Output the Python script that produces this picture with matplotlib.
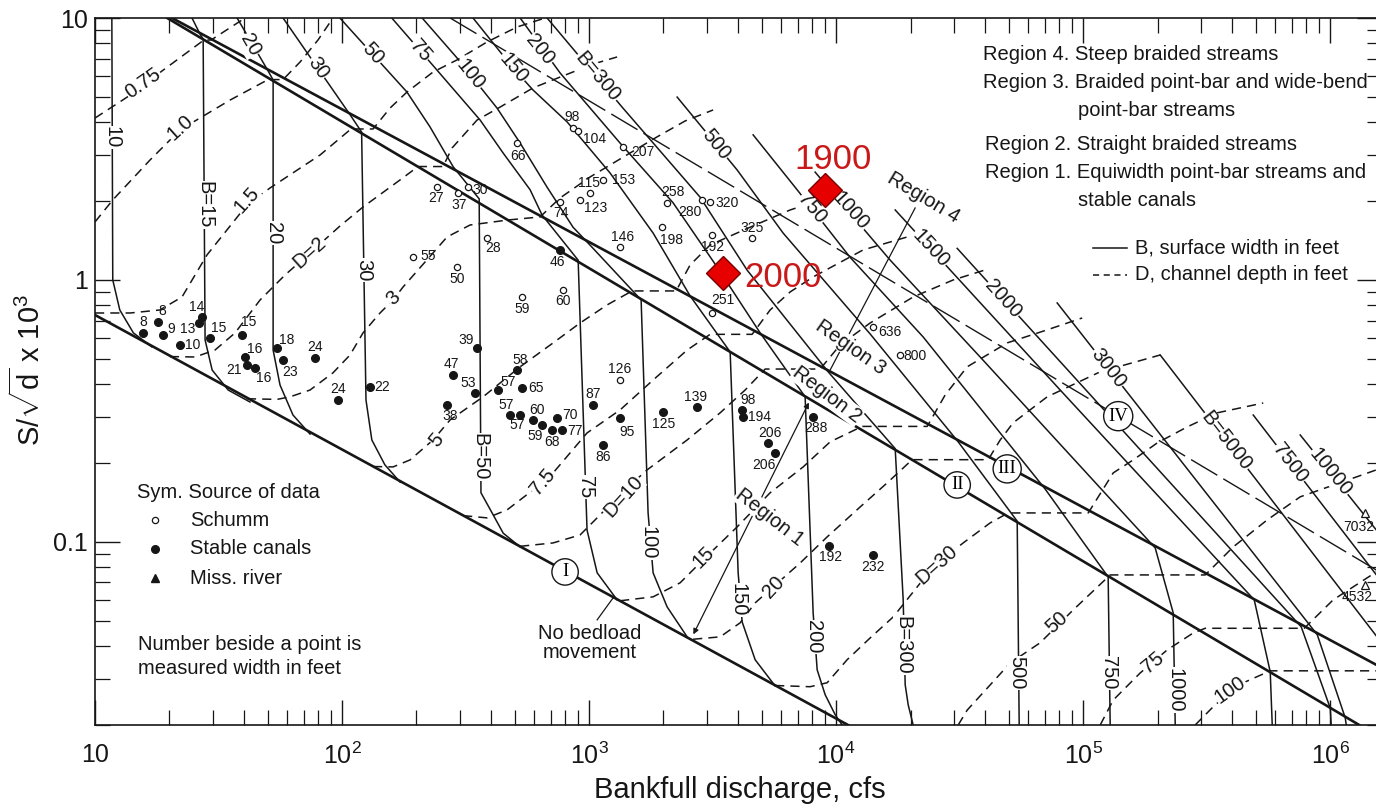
import numpy as np
from matplotlib import pyplot as plt
from matplotlib.lines import Line2D
from matplotlib.ticker import LogLocator, NullFormatter

plt.rcParams['font.family'] = ['Liberation Sans', 'DejaVu Sans']
plt.rcParams['mathtext.fontset'] = 'custom'
plt.rcParams['mathtext.rm'] = 'Liberation Sans'
plt.rcParams['mathtext.it'] = 'Liberation Sans:italic'

W, H = 1376, 808
INK = '#161616'
TXT = 14.5

# x = bankfull discharge (cfs), y = S/sqrt(d) x 10^3
# region boundaries
line1_q = [10, 12600]
line1_s = [0.735, 0.0188]
line2_q = [19.6, 1.31e6]
line2_s = [10, 0.020]
line3_q = [20.5, 1.54e6]
line3_s = [10, 0.0339]
line4_q = [274, 1.54e6]
line4_s = [10, 0.078]

# B, surface width in feet (solid)
b10_q = [11.7, 11.8, 12.6, 14.3, 17.0]
b10_s = [10, 1.0, 0.768, 0.628, 0.555]
b15_q = [24.7, 26.6, 27.4, 27.9, 29.8, 34.6, 42.4]
b15_s = [10, 8.69, 8.31, 0.590, 0.453, 0.380, 0.342]
b20_q = [37.6, 50.2, 52.6, 52.6, 56.1, 63.3, 74.2]
b20_s = [10, 6.28, 5.80, 0.540, 0.397, 0.305, 0.258]
b30_q = [57.7, 108, 120, 125, 132, 149, 172]
b30_s = [10, 4.26, 3.67, 0.348, 0.245, 0.197, 0.169]
b50_q = [98, 118, 183, 227, 282, 359, 365, 405, 449, 526]
b50_s = [10, 8.24, 5.22, 3.84, 2.70, 2.04, 0.154, 0.129, 0.108, 0.0957]
b75_q = [159, 238, 362, 449, 577, 645, 903, 981, 1078, 1298]
b75_s = [10, 6.45, 4.08, 3.05, 2.21, 1.77, 1.19, 0.111, 0.0762, 0.0601]
b100_q = [211, 292, 424, 526, 676, 861, 1038, 1624, 1733, 1816, 2069, 2494]
b100_s = [10, 7.04, 4.53, 3.33, 2.26, 1.59, 1.32, 0.839, 0.129, 0.0762, 0.0565, 0.0434]
b150_q = [339, 492, 593, 815, 1216, 1816, 2564, 3724, 4012, 4164, 4700, 5662]
b150_s = [10, 6.45, 5.31, 4.01, 2.56, 1.51, 0.869, 0.531, 0.0762, 0.0495, 0.0355, 0.0282]
b200_q = [526, 763, 1335, 2188, 3298, 4924, 7490, 8071, 8378, 9027, 9909, 10575]
b200_s = [10, 6.17, 3.33, 1.97, 1.12, 0.628, 0.358, 0.0536, 0.0325, 0.0261, 0.0219, 0.0200]
b300_q = [676, 1360, 2814, 4362, 9282, 17340, 18680, 19030, 19570, 20500]
b300_s = [10, 4.57, 2.07, 1.09, 0.446, 0.227, 0.0601, 0.0285, 0.0239, 0.0200]
b500_q = [2272, 3974, 6101, 13730, 31190, 54060, 55070]
b500_s = [4.99, 2.63, 1.51, 0.622, 0.241, 0.120, 0.0200]
b750_q = [4613, 6951, 11390, 22500, 70200, 126200, 128600]
b750_s = [3.58, 2.21, 1.22, 0.606, 0.159, 0.0735, 0.0200]
b1000_q = [8222, 16550, 38280, 195600, 231400, 235800]
b1000_s = [2.58, 1.19, 0.508, 0.0949, 0.0536, 0.0200]
b1500_q = [17340, 80710, 492400, 571600, 582400]
b1500_s = [1.85, 0.380, 0.0601, 0.0319, 0.0200]
b2000_q = [30900, 47450, 763000, 1000000, 1009000]
b2000_s = [1.32, 0.846, 0.0474, 0.0232, 0.0200]
b3000_q = [78470, 886300, 1150000, 1161000]
b3000_s = [0.817, 0.0442, 0.0213, 0.0200]
b5000_q = [205000, 1920000]
b5000_s = [0.517, 0.0333]
b7500_q = [487900, 1920000]
b7500_s = [0.305, 0.057]
b10000_q = [755800, 1920000]
b10000_s = [0.256, 0.0854]

# D, channel depth in feet (dashed)
d075_q = [10, 13.5, 18.9, 27.6, 29.5, 40.5]
d075_s = [4.15, 4.99, 6.33, 8.24, 8.24, 10]
d1_q = [10, 11.8, 16.7, 22.1, 35.2, 50.2, 57.7, 67.6, 79.9, 91.9]
d1_s = [1.665, 2.02, 2.87, 3.74, 4.86, 5.82, 5.82, 6.79, 8.24, 10]
d15_q = [10, 13.9, 18.3, 22.5, 28.4, 41.2, 51.1, 81.5, 108.7, 133.5, 156.4, 183.3, 233.6, 292.2, 386.4, 511.1, 663.6]
d15_s = [0.748, 0.748, 0.768, 0.861, 1.246, 1.933, 2.244, 3.00, 3.77, 3.77, 4.53, 5.22, 6.22, 6.92, 8.10, 9.24, 10]
d2_q = [20.1, 25.4, 30.6, 36.9, 46.6, 58.8, 74.2, 98.1, 121.6, 171.7, 203.1, 256.4, 278.8, 352.2, 436.2, 593.4, 763, 1038, 1298]
d2_s = [0.51, 0.508, 0.540, 0.628, 0.839, 1.045, 1.268, 1.607, 1.899, 2.409, 2.71, 2.71, 3.19, 4.08, 4.57, 5.41, 5.95, 6.67, 7.10]
d3_q = [41.2, 54.6, 61.6, 74.2, 91.9, 107.7, 121.6, 142.5, 160.9, 176.6, 216.8, 266.1, 329.8, 470, 633.3, 763, 1009, 1335, 1851, 2447, 3177]
d3_s = [0.352, 0.350, 0.358, 0.380, 0.442, 0.517, 0.628, 0.748, 0.839, 0.940, 1.171, 1.459, 1.621, 1.694, 1.740, 2.056, 2.472, 2.896, 3.483, 4.045, 4.456]
d5_q = [133.5, 160.9, 188.5, 233.6, 273.6, 372.3, 525.6, 715.1, 919.5, 1183, 1494, 2250, 2564, 3090, 4485, 6513, 9909]
d5_s = [0.194, 0.1933, 0.2056, 0.245, 0.292, 0.358, 0.466, 0.575, 0.685, 0.803, 0.908, 0.908, 1.141, 1.360, 1.59, 1.85, 2.11]
d75_q = [309, 386.4, 465.6, 615.9, 715.1, 981, 1335, 1816, 2494, 3090, 4570, 5404, 6513, 8071, 12860, 19390, 22930]
d75_s = [0.126, 0.1235, 0.1325, 0.1622, 0.1834, 0.2606, 0.319, 0.415, 0.540, 0.620, 0.620, 0.768, 0.900, 1.027, 1.302, 1.459, 1.551]
d10_q = [525.6, 715.1, 919.5, 1108, 1298, 1717, 2494, 3392, 4281, 5160, 8616, 10380, 13730, 20500, 29770, 40110]
d10_s = [0.0962, 0.0991, 0.1063, 0.1268, 0.1486, 0.1883, 0.245, 0.311, 0.380, 0.457, 0.457, 0.565, 0.685, 0.861, 1.0, 1.092]
d15b_q = [1335, 1816, 2336, 2893, 3974, 5404, 7353, 9456, 12740, 23360, 27630, 33920, 49240, 71510, 99090]
d15b_s = [0.0596, 0.0617, 0.0698, 0.0854, 0.1141, 0.154, 0.1933, 0.241, 0.276, 0.276, 0.364, 0.466, 0.575, 0.645, 0.716]
d20_q = [2637, 3392, 4087, 4700, 5556, 7151, 9196, 12510, 16090, 20310, 41250, 46140, 52080, 71510, 117200, 205000]
d20_s = [0.0425, 0.0434, 0.0491, 0.0585, 0.0673, 0.0831, 0.1045, 0.136, 0.168, 0.206, 0.206, 0.245, 0.285, 0.358, 0.446, 0.517]
d30_q = [5662, 7847, 9196, 11080, 13730, 17020, 21280, 24700, 32680, 42030, 49710, 104800, 132300, 159400, 199400, 263700, 348700, 535500]
d30_s = [0.0283, 0.0280, 0.0290, 0.0355, 0.0430, 0.0517, 0.0673, 0.0803, 0.0991, 0.1182, 0.129, 0.129, 0.1834, 0.2056, 0.2387, 0.2748, 0.311, 0.339]
d50_q = [31190, 33920, 50640, 66950, 91110, 128600, 311900, 404900, 555600, 755800, 1536000]
d50_s = [0.020, 0.0228, 0.0345, 0.0412, 0.0550, 0.0748, 0.0748, 0.0957, 0.1213, 0.1486, 0.1883]
d75b_q = [117200, 132300, 170100, 218800, 278800, 311900, 784700, 1028000, 1536000]
d75b_s = [0.020, 0.0249, 0.0316, 0.0387, 0.0449, 0.0468, 0.0468, 0.0601, 0.0768]
d100_q = [284000, 342300, 452700, 571600, 1536000]
d100_s = [0.020, 0.0239, 0.0292, 0.0322, 0.0322]

# curve labels: text, Q, S, angle
b_vert_labels = [('10', 11.7, 3.5, -90), ('B=15', 27.9, 1.93, -90), ('20', 52.6, 1.51, -90),
                 ('30', 122, 1.09, -90), ('B=50', 362, 0.211, -90), ('75', 963, 0.162, -90),
                 ('100', 1733, 0.0991, -90), ('150', 4012, 0.0601, -90), ('200', 8071, 0.0434, -90),
                 ('B=300', 18680, 0.0404, -90), ('500', 54060, 0.0316, -90), ('750', 126200, 0.0316, -90),
                 ('1000', 235800, 0.0272, -90)]
b_diag_labels = [('20', 42.4, 7.88, -60), ('30', 79.9, 6.45, -55), ('50', 133.5, 7.29, -48),
                 ('75', 207, 7.48, -49), ('100', 329.8, 6.11, -51), ('150', 492, 6.45, -50),
                 ('200', 633.3, 7.55, -51), ('B=300', 1078, 5.95, -50), ('500', 3267, 3.29, -51),
                 ('750', 7993, 1.87, -50), ('1000', 11390, 1.83, -48), ('1500', 24030, 1.32, -47),
                 ('2000', 47450, 0.846, -48), ('3000', 126200, 0.461, -52), ('B=5000', 379200, 0.243, -52),
                 ('7500', 688800, 0.200, -52), ('10000', 1.0e6, 0.185, -51)]
d_labels = [('0.75', 15.64, 5.65, 35), ('1.0', 22.1, 3.80, 42), ('1.5', 41.2, 2.02, 48),
            ('D=2', 74.2, 1.27, 42), ('3', 160.9, 0.854, 45), ('5', 242.5, 0.245, 50),
            ('7.5', 651, 0.170, 50), ('D=10', 1373, 0.149, 48), ('15', 2893, 0.0877, 45),
            ('20', 5556, 0.0673, 47), ('D=30', 25650, 0.0817, 42), ('50', 78470, 0.0491, 42),
            ('75', 192000, 0.0345, 40), ('100', 393600, 0.0272, 35)]
region_labels = [('Region 4', 22500, 2.06, -31), ('Region 3', 11390, 0.555, -35),
                 ('Region 2', 9196, 0.364, -37), ('Region 1', 5404, 0.1246, -38)]
numerals = [('I', 799.5, 0.0768), ('II', 30900, 0.165), ('III', 49240, 0.190), ('IV', 138600, 0.302)]

# measured points: Schumm (open), stable canals (filled), Mississippi river (triangles)
schumm_q = [511, 861, 903, 1373, 1139, 1009, 919.5, 763, 242.5, 294.9, 323.6, 386.4, 193.8, 292.2,
            535.5, 784.7, 1335, 1975, 2069, 2867, 3090, 3148, 4570, 3148, 1335, 14120, 18160]
schumm_s = [3.33, 3.80, 3.70, 3.22, 2.409, 2.148, 2.02, 1.985, 2.26, 2.148, 2.26, 1.446, 1.224, 1.121,
            0.861, 0.916, 1.336, 1.59, 1.97, 2.02, 1.985, 1.485, 1.446, 0.748, 0.415, 0.662, 0.517]
schumm_lab = ['66', '98', '104', '207', '153', '115', '123', '74', '27', '37', '30', '28', '55', '50',
              '59', '60', '146', '198', '258', '280', '320', '192', '325', '251', '126', '636', '800']
canal_q = [15.64, 17.99, 18.85, 26.37, 27.12, 22.1, 29.22, 39.36, 40.5, 41.2, 44.44, 54.57, 57.7, 77.72,
           96.3, 129.8, 352.2, 281.5, 345.6, 266.1, 511.1, 428.2, 535.5, 478.8, 525.6, 593.4, 645,
           708.4, 742.1, 777.4, 1038, 1335, 1139, 1994, 2736, 4164, 4203, 5305, 5662, 8071, 9371,
           14120, 763]
canal_s = [0.628, 0.691, 0.617, 0.685, 0.7225, 0.565, 0.601, 0.617, 0.508, 0.474, 0.461, 0.550, 0.495,
           0.504, 0.348, 0.3905, 0.550, 0.434, 0.3704, 0.3334, 0.453, 0.380, 0.387, 0.305, 0.305, 0.292,
           0.2796, 0.2676, 0.2974, 0.2676, 0.3334, 0.2974, 0.2346, 0.3134, 0.3275, 0.319, 0.300, 0.2387,
           0.2186, 0.300, 0.0966, 0.0892, 1.302]
canal_lab = ['8', '8', '9', '13', '14', '10', '15', '15', '16', '21', '16', '18', '23', '24', '24', '22',
             '39', '47', '53', '38', '58', '57', '65', '57', '57', '60', '59', '68', '70', '77', '87', '95',
             '86', '125', '139', '98', '194', '206', '206', '288', '192', '232', '46']
miss_q = [1.386e6, 1.386e6]
miss_s = [0.129, 0.0685]
miss_lab = ['7032', '4532']

# red markers
red_q = [9027, 3487]
red_s = [2.21, 1.063]
red_lab = ['1900', '2000']

# label offsets (points) for the point numbers
schumm_off = [(1, -9), (-1, 8), (12, -6), (14, -4), (15, 0), (-1, 7), (11, -6), (1, -8), (-1, -8),
              (1, -9), (9, -2), (4, -7), (11, 1), (0, -9), (0, -9), (0, -8), (2, 7), (7, -9), (4, 8),
              (-9, -9), (12, -1), (0, -9), (0, 7), (8, 9), (0, 8), (12, -4), (11, -1)]
canal_off = [(0, 8), (3, 8), (6, 4), (-8, -4), (-4, 7), (9, 0), (6, 7), (5, 9), (7, 6), (-9, -4),
             (6, -7), (7, 6), (5, -9), (0, 8), (0, 8), (9, 0), (-8, 6), (-1, 8), (-5, 7), (2, -8),
             (2, 7), (7, 6), (10, 0), (-3, 7), (-2, -7), (3, 7), (-5, -8), (0, -9), (9, 2), (9, -1),
             (0, 8), (5, -10), (0, -9), (0, -9), (-1, 7), (4, 7), (12, 0), (1, 7), (-8, -9), (2, -8),
             (1, -8), (0, -9), (-2, -9)]
miss_off = [(-5, -10), (-6, -9)]
red_off = [(6, 22), (43, -3)]


def put_label(ax, q, s, text, rot, size=14.5):
  ax.text(q, s, text, rotation=rot, rotation_mode='anchor', ha='center', va='center',
          fontsize=size, color=INK, zorder=4,
          bbox=dict(facecolor='white', edgecolor='none', pad=0.5))


def ftext(fig, x, y, s, **kw):
  fig.text(x / W, 1 - y / H, s, color=INK, **kw)


fig = plt.figure(figsize=(W / 100, H / 100), dpi=100)
ax = fig.add_axes([95 / W, 83 / H, 1287 / W, 707 / H])
ax.set_xscale('log')
ax.set_yscale('log')
ax.set_xlim(10, 1.62e6)
ax.set_ylim(0.02, 10)

for q, s in [(line1_q, line1_s), (line2_q, line2_s), (line3_q, line3_s)]:
  ax.plot(q, s, color=INK, lw=1.9, zorder=3)
ax.plot(line4_q, line4_s, color=INK, lw=1.0, dashes=(22, 5), zorder=3)

b_curves = [(b10_q, b10_s), (b15_q, b15_s), (b20_q, b20_s), (b30_q, b30_s), (b50_q, b50_s),
            (b75_q, b75_s), (b100_q, b100_s), (b150_q, b150_s), (b200_q, b200_s), (b300_q, b300_s),
            (b500_q, b500_s), (b750_q, b750_s), (b1000_q, b1000_s), (b1500_q, b1500_s),
            (b2000_q, b2000_s), (b3000_q, b3000_s), (b5000_q, b5000_s), (b7500_q, b7500_s),
            (b10000_q, b10000_s)]
for q, s in b_curves:
  ax.plot(q, s, color=INK, lw=1.1, zorder=2)

d_curves = [(d075_q, d075_s), (d1_q, d1_s), (d15_q, d15_s), (d2_q, d2_s), (d3_q, d3_s), (d5_q, d5_s),
            (d75_q, d75_s), (d10_q, d10_s), (d15b_q, d15b_s), (d20_q, d20_s), (d30_q, d30_s),
            (d50_q, d50_s), (d75b_q, d75b_s), (d100_q, d100_s)]
for q, s in d_curves:
  ax.plot(q, s, color=INK, lw=1.1, dashes=(6, 4), zorder=2)

for text, q, s, rot in b_vert_labels + b_diag_labels + d_labels:
  put_label(ax, q, s, text, rot)
for text, q, s in numerals:
  ax.text(q, s, text, ha='center', va='center', fontsize=13.5, family='Liberation Serif', zorder=6,
          bbox=dict(boxstyle='circle,pad=0.25', facecolor='white', edgecolor=INK, lw=1.0))

# region pointers
ax.annotate('', xy=(2612, 0.0434), xytext=(7847, 0.348),
            arrowprops=dict(arrowstyle='<|-|>', color=INK, lw=0.9, mutation_scale=8), zorder=3)
ax.plot([20880, 9456], [1.883, 0.453], color=INK, lw=0.9, zorder=3)
for text, q, s, rot in region_labels:
  put_label(ax, q, s, text, rot, size=TXT)
ax.plot([1078, 1250], [0.0504, 0.0611], color=INK, lw=0.9)
ax.text(1009, 0.0412, 'No bedload\nmovement', ha='center', va='center', fontsize=TXT,
        color=INK, linespacing=1.0)

ax.plot(schumm_q, schumm_s, 'o', ms=4.5, mfc='white', mec=INK, mew=0.9, zorder=6)
ax.plot(canal_q, canal_s, 'o', ms=5.5, mfc=INK, mec=INK, zorder=6)
ax.plot(miss_q, miss_s, '^', ms=5.5, mfc='white', mec=INK, mew=0.9, zorder=6)
for q_list, s_list, labs, offs in [(schumm_q, schumm_s, schumm_lab, schumm_off),
                                   (canal_q, canal_s, canal_lab, canal_off),
                                   (miss_q, miss_s, miss_lab, miss_off)]:
  for q, s, lab, off in zip(q_list, s_list, labs, offs):
    ax.annotate(lab, (q, s), xytext=off, textcoords='offset points', ha='center', va='center',
                fontsize=10, color=INK, zorder=6)

ax.plot(red_q, red_s, 'D', ms=17, mfc='#e60000', mec='#7a0000', mew=1.0, zorder=8)
for q, s, lab, off in zip(red_q, red_s, red_lab, red_off):
  ax.annotate(lab, (q, s), xytext=off, textcoords='offset points', ha='center', va='center',
              fontsize=25, color='#c81818', zorder=8)

ax.set_xticks([10, 1e2, 1e3, 1e4, 1e5, 1e6])
ax.set_xticklabels(['10', r'$\mathregular{10^2}$', r'$\mathregular{10^3}$', r'$\mathregular{10^4}$',
                    r'$\mathregular{10^5}$', r'$\mathregular{10^6}$'])
ax.set_yticks([0.1, 1, 10])
ax.set_yticklabels(['0.1', '1', '10'])
ax.xaxis.set_minor_locator(LogLocator(base=10, subs=np.arange(2, 10)))
ax.yaxis.set_minor_locator(LogLocator(base=10, subs=np.arange(2, 10)))
ax.xaxis.set_minor_formatter(NullFormatter())
ax.yaxis.set_minor_formatter(NullFormatter())
ax.tick_params(which='both', direction='in', top=True, right=True, colors=INK)
ax.tick_params(which='major', length=18, width=1.0, labelsize=18)
ax.tick_params(which='minor', length=11, width=0.9)
ax.tick_params(axis='x', which='major', pad=13)
ax.tick_params(axis='y', which='major', pad=5)
for sp in ax.spines.values():
  sp.set_linewidth(1.2)
  sp.set_color(INK)

# axis titles
ftext(fig, 740, 790, 'Bankfull discharge, cfs', fontsize=21, ha='center', va='center')
ftext(fig, 28, 370, r'S/$\sqrt{\mathregular{d}}$ x 10$^\mathregular{3}$', fontsize=21,
      ha='center', va='center', rotation=90)

# explanation, upper right
ftext(fig, 983, 55, 'Region 4. Steep braided streams', fontsize=TXT, va='center')
ftext(fig, 983, 83, 'Region 3. Braided point-bar and wide-bend', fontsize=TXT, va='center')
ftext(fig, 1078, 110, 'point-bar streams', fontsize=TXT, va='center')
ftext(fig, 985, 145, 'Region 2. Straight braided streams', fontsize=TXT, va='center')
ftext(fig, 985, 173, 'Region 1. Equiwidth point-bar streams and', fontsize=TXT, va='center')
ftext(fig, 1078, 200, 'stable canals', fontsize=TXT, va='center')
fig.add_artist(Line2D([1093 / W, 1127 / W], [1 - 248 / H, 1 - 248 / H], color=INK, lw=1.1))
fig.add_artist(Line2D([1093 / W, 1127 / W], [1 - 275 / H, 1 - 275 / H], color=INK, lw=1.1,
                      dashes=(4, 3)))
ftext(fig, 1135, 248, 'B, surface width in feet', fontsize=TXT, va='center')
ftext(fig, 1135, 275, 'D, channel depth in feet', fontsize=TXT, va='center')

# symbol key, lower left
ftext(fig, 137, 492, 'Sym. Source of data', fontsize=TXT, va='center')
fig.add_artist(Line2D([155 / W], [1 - 520 / H], marker='o', ms=4.5, mfc='white', mec=INK, mew=0.9))
fig.add_artist(Line2D([155 / W], [1 - 549 / H], marker='o', ms=5.5, mfc=INK, mec=INK))
fig.add_artist(Line2D([155 / W], [1 - 578 / H], marker='^', ms=6, mfc=INK, mec=INK))
ftext(fig, 190, 520, 'Schumm', fontsize=TXT, va='center')
ftext(fig, 190, 549, 'Stable canals', fontsize=TXT, va='center')
ftext(fig, 190, 578, 'Miss. river', fontsize=TXT, va='center')
ftext(fig, 138, 644, 'Number beside a point is', fontsize=TXT, va='center')
ftext(fig, 138, 668, 'measured width in feet', fontsize=TXT, va='center')

fig.savefig('out.png', dpi=100)
